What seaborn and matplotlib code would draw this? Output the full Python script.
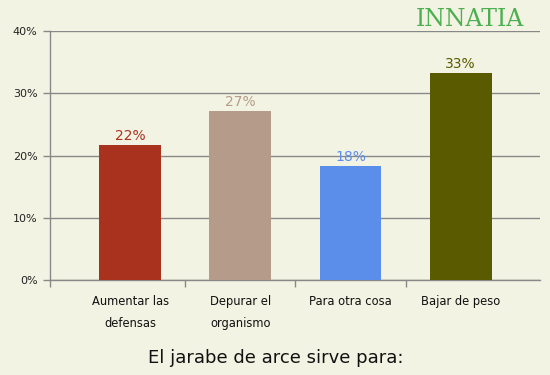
import pandas as pd
import matplotlib
matplotlib.use("Agg")
import matplotlib.pyplot as plt
import seaborn as sns

# Data
categories = ["Aumentar las\ndefensas", "Depurar el\norganismo", "Para otra cosa", "Bajar de peso"]
values = [21.7, 27.1, 18.3, 33.2]
colors = ["#a9321e", "#b59c8a", "#5b8eea", "#5a5a00"]
y_ticks = [0, 10, 20, 30, 40]

bg = "#f3f3e3"
sns.set_theme(style="white")
plt.rcParams["font.family"] = ["DejaVu Sans"]

df = pd.DataFrame({"cat": categories, "val": values})

fig = plt.figure(figsize=(5.5, 3.75), dpi=100, facecolor=bg)
ax = fig.add_axes([50 / 550, 1 - 280 / 375, 490 / 550, 249 / 375])
ax.set_facecolor(bg)

sns.barplot(data=df, x="cat", y="val", hue="cat", palette=colors, legend=False,
            width=0.56, saturation=1, linewidth=0, ax=ax, zorder=3)

ax.set_ylim(0, 40)
ax.set_xlim(-0.727, 3.72)
ax.set_yticks(y_ticks)
ax.set_yticklabels([f"{t}%" for t in y_ticks], fontsize=8, color="#222222")
ax.yaxis.grid(True, color="#888888", linewidth=1, zorder=0)
ax.set_xticks(range(len(categories)))
ax.set_xticklabels(categories, fontsize=8.3, color="#111111", linespacing=1.85)
ax.tick_params(axis="x", length=0, pad=11)
ax.tick_params(axis="y", length=5, color="#888888", width=1, pad=4, left=True)
# category separator ticks
ax.set_xticks([-0.727, 0.5, 1.5, 2.5], minor=True)
ax.tick_params(axis="x", which="minor", length=5, color="#888888", width=1, bottom=True)
ax.set_xlabel("")
ax.set_ylabel("")

for s in ["top", "right"]:
    ax.spines[s].set_visible(False)
for s in ["left", "bottom"]:
    ax.spines[s].set_color("#888888")
    ax.spines[s].set_linewidth(1)

for i, (v, c) in enumerate(zip(values, colors)):
    ax.text(i, v + 0.3, f"{round(v)}%", ha="center", va="bottom", fontsize=10, color=c, zorder=4)

fig.text(276 / 550, 1 - 358 / 375, "El jarabe de arce sirve para:", ha="center", va="center",
         fontsize=13, color="#111111")

fig.text(470 / 550, 1 - 20 / 375, "INNATIA", ha="center", va="center", fontsize=17,
         color="#4caf50", family="DejaVu Serif")

fig.savefig("out.png", dpi=100, facecolor=bg)
